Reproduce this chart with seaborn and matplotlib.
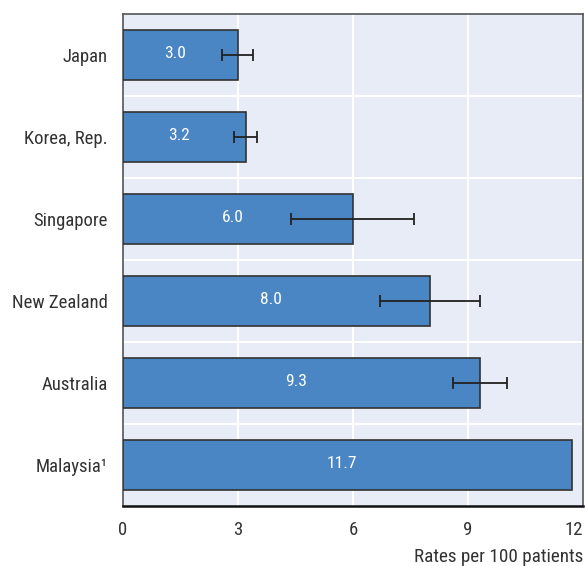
import matplotlib
matplotlib.use("Agg")
import matplotlib.pyplot as plt
import seaborn as sns
import pandas as pd
from matplotlib import font_manager

countries = ["Japan", "Korea, Rep.", "Singapore", "New Zealand", "Australia", "Malaysia\u00b9"]
rates = [3.0, 3.2, 6.0, 8.0, 9.3, 11.7]
ci_low = [2.57, 2.90, 4.39, 6.70, 8.60, None]
ci_high = [3.39, 3.50, 7.59, 9.31, 10.01, None]
xticks = [0, 3, 6, 9, 12]
xlabel = "Rates per 100 patients"

sns.set_theme(style="white")
names = {f.name for f in font_manager.fontManager.ttflist}
chosen = "Roboto"
for cand in ["Roboto Condensed", "Liberation Sans Narrow", "Open Sans Condensed", "Noto Sans Condensed"]:
    if cand in names:
        chosen = cand
        break
plt.rcParams["font.family"] = [chosen, "DejaVu Sans"]
plt.rcParams["font.stretch"] = "condensed"

df = pd.DataFrame({"country": countries, "rate": rates})

fig = plt.figure(figsize=(5.85, 5.66), dpi=100)
ax = fig.add_axes([123 / 585, 1 - 506 / 566, 460 / 585, 492 / 566])
ax.set_facecolor("#e8ecf6")

sns.barplot(data=df, y="country", x="rate", orient="h", color="#4a86c4",
            saturation=1, width=0.6, edgecolor="#333333", linewidth=1.2, ax=ax, zorder=3)

for i, (lo, hi, v) in enumerate(zip(ci_low, ci_high, rates)):
    if lo is None:
        continue
    ax.errorbar(v, i, xerr=[[v - lo], [hi - v]], fmt="none", ecolor="#222222",
                elinewidth=1.3, capsize=4, capthick=1.3, zorder=4)

anns = ax.bar_label(ax.containers[0], labels=[f"{v:.1f}" for v in rates], label_type="center",
                    color="white", fontsize=12.5, zorder=5)
for a in anns:
    a.set_position((-4, 1))

ax.set_xlim(0, 12)
ax.set_ylim(len(countries) - 0.5, -0.5)
ax.set_xticks(xticks)
ax.set_xticklabels([str(t) for t in xticks], fontsize=13.5, color="#333333")
ax.get_xticklabels()[-1].set_horizontalalignment("right")
ax.set_yticks(range(len(countries)))
ax.set_yticklabels(countries, fontsize=13.5, color="#333333")
ax.set_yticks([i + 0.5 for i in range(len(countries) - 1)], minor=True)
ax.tick_params(axis="y", which="major", length=0, pad=11)
ax.tick_params(axis="y", which="minor", length=7, direction="in", color="#555555", width=1)
ax.tick_params(axis="x", which="major", length=6, direction="in", color="#333333", width=1, pad=11)

ax.grid(False)
for x in xticks[1:-1]:
    ax.axvline(x, color="white", lw=1.5, zorder=1)
for i in range(len(countries) - 1):
    ax.axhline(i + 0.5, color="white", lw=1.5, zorder=1)

ax.set_ylabel("")
ax.set_xlabel(xlabel, fontsize=13.8, color="#333333", loc="right", labelpad=6)

for s in ["left", "top", "right"]:
    ax.spines[s].set_visible(True)
    ax.spines[s].set_color("#555555")
    ax.spines[s].set_linewidth(1.2)
ax.spines["bottom"].set_color("#111111")
ax.spines["bottom"].set_linewidth(1.8)

fig.savefig("out.png", dpi=100)
